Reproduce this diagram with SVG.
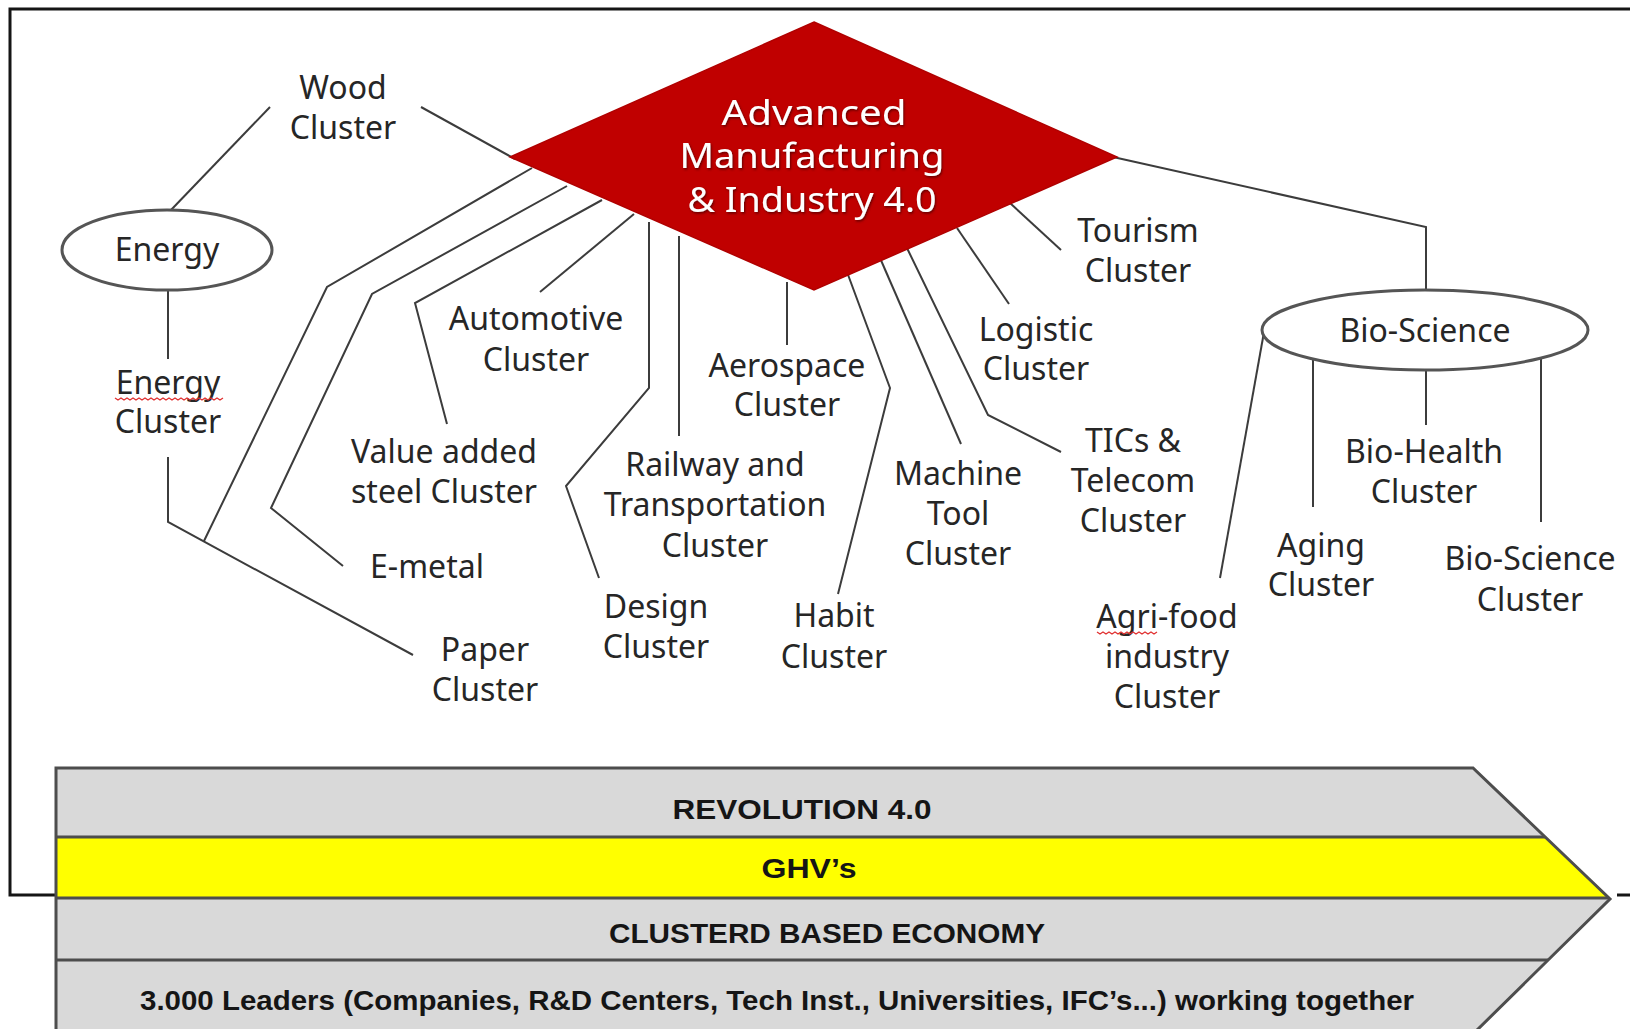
<svg xmlns="http://www.w3.org/2000/svg" width="1630" height="1029" viewBox="0 0 1630 1029">
<defs>
<style>
.lbl{font-family:"Noto Sans","Open Sans","Liberation Sans",sans-serif;font-size:32px;fill:#262626;text-anchor:middle}
.conn{fill:none;stroke:#3c3c3c;stroke-width:2}
.oval{fill:#fff;stroke:#555;stroke-width:3}
.dtext{font-family:"Noto Sans","Open Sans",sans-serif;font-size:34px;fill:#fff;text-anchor:middle}
.btext{font-family:"Liberation Sans",Arial,sans-serif;font-weight:bold;font-size:27px;fill:#151515;text-anchor:middle}
.sep{stroke:#4d4d4d;stroke-width:3}
.squig{fill:none;stroke:#e03030;stroke-width:1.3}
.frame{fill:none;stroke:#151515;stroke-width:3}
</style>
<filter id="sh" x="-10%" y="-20%" width="120%" height="150%">
<feDropShadow dx="1" dy="1.5" stdDeviation="1" flood-color="#4a0000" flood-opacity="0.8"/>
</filter>
</defs>
<rect x="0" y="0" width="1630" height="1029" fill="#fff"/>

<g id="frame">
<path class="frame" d="M1630 9 H10 V895 H56"/>
<path class="frame" d="M1617 895 H1630"/>
</g>

<g id="connectors">
<path class="conn" d="M270 107 L171 210"/>
<path class="conn" d="M421 107 L515 159"/>
<path class="conn" d="M168 290 V359"/>
<path class="conn" d="M168 457 V522 L413 655"/>
<path class="conn" d="M532 168 L327 287 L204 541"/>
<path class="conn" d="M567 186 L372 294 L271 508 L343 566"/>
<path class="conn" d="M602 200 L415 303 L447 424"/>
<path class="conn" d="M634 214 L540 292"/>
<path class="conn" d="M649 222 V388 L566 486 L599 578"/>
<path class="conn" d="M679 236 V436"/>
<path class="conn" d="M787 282 V345"/>
<path class="conn" d="M847 272 L890 388 L838 594"/>
<path class="conn" d="M880 258 L961 444"/>
<path class="conn" d="M906 246 L988 415 L1061 452"/>
<path class="conn" d="M957 228 L1009 304"/>
<path class="conn" d="M1010 203 L1061 250"/>
<path class="conn" d="M1113 157 L1426 227 V290"/>
<path class="conn" d="M1264 332 L1220 578"/>
<path class="conn" d="M1313 358 V507"/>
<path class="conn" d="M1426 370 V425"/>
<path class="conn" d="M1541 358 V522"/>
</g>

<g id="hub">
<polygon points="814,22 1117,157 814,290 510,157" fill="#c00000" stroke="#b00000" stroke-width="1.5"/>
<g filter="url(#sh)">
<text class="dtext" x="814" y="125" textLength="185" lengthAdjust="spacingAndGlyphs">Advanced</text>
<text class="dtext" x="812" y="168" textLength="265" lengthAdjust="spacingAndGlyphs">Manufacturing</text>
<text class="dtext" x="812" y="212" textLength="249" lengthAdjust="spacingAndGlyphs">&amp; Industry 4.0</text>
</g>
</g>

<g id="wood"><text class="lbl" x="343" y="99">Wood</text><text class="lbl" x="343" y="139">Cluster</text></g>
<g id="energy"><ellipse class="oval" cx="167" cy="250" rx="105" ry="40"/><text class="lbl" x="167" y="261">Energy</text></g>
<g id="energy-cluster"><text class="lbl" x="168" y="394">Energy</text><text class="lbl" x="168" y="433">Cluster</text>
<path class="squig" d="M115 398 l3 2 3 -2 3 2 3 -2 3 2 3 -2 3 2 3 -2 3 2 3 -2 3 2 3 -2 3 2 3 -2 3 2 3 -2 3 2 3 -2 3 2 3 -2 3 2 3 -2 3 2 3 -2 3 2 3 -2 3 2 3 -2 3 2 3 -2 3 2 3 -2 3 2 3 -2 3 2 3 -2"/></g>
<g id="automotive"><text class="lbl" x="536" y="330">Automotive</text><text class="lbl" x="536" y="371">Cluster</text></g>
<g id="aerospace"><text class="lbl" x="787" y="377">Aerospace</text><text class="lbl" x="787" y="416">Cluster</text></g>
<g id="tourism"><text class="lbl" x="1138" y="242">Tourism</text><text class="lbl" x="1138" y="282">Cluster</text></g>
<g id="logistic"><text class="lbl" x="1036" y="341">Logistic</text><text class="lbl" x="1036" y="380">Cluster</text></g>
<g id="bioscience"><ellipse class="oval" cx="1425" cy="330" rx="163" ry="40"/><text class="lbl" x="1425" y="342">Bio-Science</text></g>
<g id="steel"><text class="lbl" x="444" y="463">Value added</text><text class="lbl" x="444" y="503">steel Cluster</text></g>
<g id="railway"><text class="lbl" x="715" y="476">Railway and</text><text class="lbl" x="715" y="516">Transportation</text><text class="lbl" x="715" y="557">Cluster</text></g>
<g id="machine-tool"><text class="lbl" x="958" y="485">Machine</text><text class="lbl" x="958" y="525">Tool</text><text class="lbl" x="958" y="565">Cluster</text></g>
<g id="tics"><text class="lbl" x="1133" y="452">TICs &amp;</text><text class="lbl" x="1133" y="492">Telecom</text><text class="lbl" x="1133" y="532">Cluster</text></g>
<g id="bio-health"><text class="lbl" x="1424" y="463">Bio-Health</text><text class="lbl" x="1424" y="503">Cluster</text></g>
<g id="emetal"><text class="lbl" x="427" y="578">E-metal</text></g>
<g id="design"><text class="lbl" x="656" y="618">Design</text><text class="lbl" x="656" y="658">Cluster</text></g>
<g id="habit"><text class="lbl" x="834" y="627">Habit</text><text class="lbl" x="834" y="668">Cluster</text></g>
<g id="aging"><text class="lbl" x="1321" y="557">Aging</text><text class="lbl" x="1321" y="596">Cluster</text></g>
<g id="bioscience-cluster"><text class="lbl" x="1530" y="570">Bio-Science</text><text class="lbl" x="1530" y="611">Cluster</text></g>
<g id="agrifood"><text class="lbl" x="1167" y="628">Agri-food</text><text class="lbl" x="1167" y="668">industry</text><text class="lbl" x="1167" y="708">Cluster</text>
<path class="squig" d="M1097 632 l3 2 3 -2 3 2 3 -2 3 2 3 -2 3 2 3 -2 3 2 3 -2 3 2 3 -2 3 2 3 -2 3 2 3 -2 3 2 3 -2 3 2 3 -2"/></g>
<g id="paper"><text class="lbl" x="485" y="661">Paper</text><text class="lbl" x="485" y="701">Cluster</text></g>

<g id="arrow">
<polygon points="56,768 1473,768 1610,899 1472,1035 56,1035" fill="#d9d9d9"/>
<polygon points="56,837 1545,837 1610,899 56,899" fill="#ffff00"/>
<line class="sep" x1="56" y1="837" x2="1545" y2="837"/>
<line class="sep" x1="56" y1="898" x2="1609" y2="898"/>
<line class="sep" x1="56" y1="960" x2="1548" y2="960"/>
<polygon points="56,768 1473,768 1610,899 1472,1035 56,1035" fill="none" stroke="#4d4d4d" stroke-width="3"/>
<text class="btext" x="802" y="819" textLength="259" lengthAdjust="spacingAndGlyphs">REVOLUTION 4.0</text>
<text class="btext" x="809" y="878" textLength="95" lengthAdjust="spacingAndGlyphs">GHV’s</text>
<text class="btext" x="827" y="943" textLength="436" lengthAdjust="spacingAndGlyphs">CLUSTERD BASED ECONOMY</text>
<text class="btext" x="777" y="1010" textLength="1274" lengthAdjust="spacingAndGlyphs">3.000 Leaders (Companies, R&amp;D Centers, Tech Inst., Universities, IFC’s...) working together</text>
</g>
</svg>
